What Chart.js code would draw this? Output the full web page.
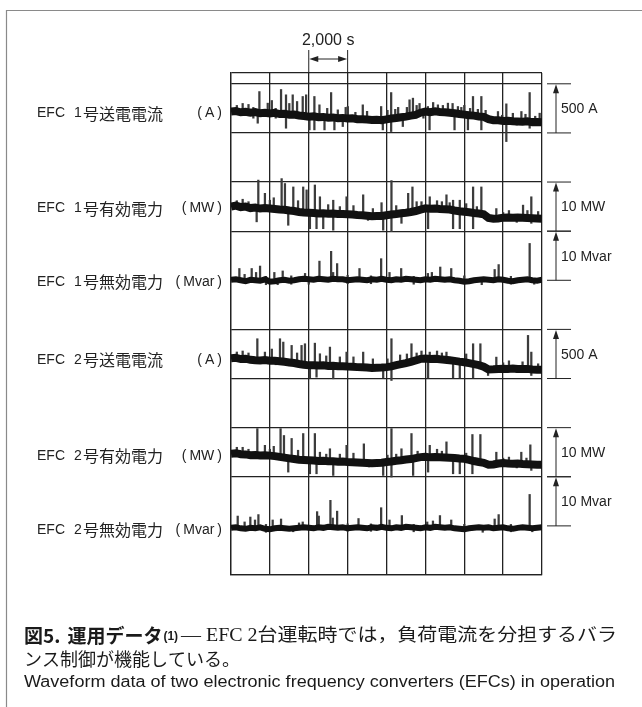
<!DOCTYPE html>
<html>
<head>
<meta charset="utf-8">
<script src="https://cdn.jsdelivr.net/npm/chart.js@4.4.1/dist/chart.umd.min.js"></script>
<style>
html,body{margin:0;padding:0;background:#fff}
#wrap{position:relative;width:642px;height:707px}
</style>
</head>
<body>
<div id="wrap"><canvas id="myChart" width="642" height="707"></canvas></div>
<script>
// time axis (s), 8 divisions of 2,000 s
let times = [
  0,250,500,750,1000,1250,1500,1750,2000,2250,2500,2750,3000,
  3250,3500,3750,4000,4250,4500,4750,5000,5250,5500,5750,6000,6250,
  6500,6750,7000,7250,7500,7750,8000,8250,8500,8750,9000,9250,9500,
  9750,10000,10250,10500,10750,11000,11250,11500,11750,12000,12250,12500,12750,
  13000,13250,13500,13750,14000,14250,14500,14750,15000,15250,15500,15750,16000
];

// EFC 1 transmission current (A)
let cur1 = [
  217,222,210,215,205,212,200,206,198,204,192,196,186,
  188,178,172,166,170,160,163,155,158,150,153,146,148,
  140,138,136,132,134,130,138,146,152,160,166,176,184,
  206,218,212,220,214,210,206,200,192,186,180,176,168,
  164,140,130,128,122,124,118,116,114,118,110,112,108
];
// EFC 1 active power (MW)
let mw1 = [
  5.0,5.2,4.9,5.0,4.7,4.8,4.6,4.7,4.6,4.5,4.4,4.35,4.2,
  4.1,3.9,3.8,3.75,3.7,3.6,3.65,3.55,3.6,3.5,3.5,3.45,3.4,
  3.3,3.25,3.15,3.05,3.1,3.1,3.25,3.4,3.5,3.65,3.75,3.9,4.1,
  4.4,4.65,4.55,4.6,4.5,4.45,4.4,4.2,4.05,3.95,3.85,3.7,3.6,
  3.45,2.7,2.55,2.6,2.75,2.8,2.75,2.8,2.75,2.7,2.65,2.6,2.55
];
// EFC 1 reactive power (Mvar)
let mvar1 = [
  0.1,0.2,0.0,-0.2,0.1,0.0,-0.1,0.2,-0.3,-0.2,0.0,0.1,-0.1,
  0.0,0.2,0.3,0.2,0.1,0.3,0.2,0.1,0.3,0.2,0.2,0.0,0.1,
  0.2,0.1,0.0,0.2,0.1,0.3,0.1,0.0,0.2,0.1,0.3,0.2,0.1,
  0.0,0.2,0.1,0.3,0.2,0.1,0.2,0.0,-0.1,-0.3,-0.2,0.0,0.1,
  0.2,0.1,0.0,0.2,0.1,-0.1,-0.2,0.0,0.1,0.2,0.0,-0.1,0.1
];
// EFC 2 transmission current (A)
let cur2 = [
  205,210,198,202,190,186,184,188,182,180,176,170,164,
  158,148,140,134,136,132,134,128,130,124,126,122,120,
  116,114,112,108,110,112,116,124,136,146,156,170,184,
  200,204,198,202,196,192,186,180,172,166,156,146,136,
  120,92,94,98,100,98,102,98,96,98,92,90,88
];
// EFC 2 active power (MW)
let mw2 = [
  4.7,4.8,4.6,4.55,4.4,4.45,4.35,4.4,4.3,4.2,4.05,3.9,3.75,
  3.6,3.45,3.4,3.35,3.3,3.2,3.25,3.15,3.15,3.05,3.1,3.0,2.95,
  2.9,2.85,2.8,2.75,2.8,2.85,3.0,3.1,3.25,3.35,3.5,3.6,3.8,
  4.0,4.05,3.95,4.0,3.95,3.9,3.85,3.8,3.7,3.65,3.45,3.2,3.0,
  2.85,2.45,2.5,2.7,2.8,2.7,2.65,2.7,2.6,2.55,2.5,2.45,2.45
];
// EFC 2 reactive power (Mvar)
let mvar2 = [
  -0.4,-0.3,-0.5,-0.6,-0.4,-0.5,-0.3,-0.6,-0.7,-0.5,-0.4,-0.5,-0.6,
  -0.5,-0.4,-0.3,-0.4,-0.5,-0.3,-0.4,-0.2,-0.3,-0.4,-0.3,-0.5,-0.4,
  -0.3,-0.4,-0.5,-0.3,-0.4,-0.2,-0.4,-0.5,-0.3,-0.4,-0.2,-0.3,-0.4,
  -0.5,-0.3,-0.4,-0.2,-0.3,-0.4,-0.3,-0.5,-0.6,-0.7,-0.5,-0.4,-0.3,
  -0.4,-0.3,-0.5,-0.4,-0.3,-0.5,-0.6,-0.4,-0.3,-0.4,-0.5,-0.4,-0.3
];

// spikes: [time, from, to]
let cur1Spikes = [
  [300,200,280],[600,210,300],[900,205,290],[1150,150,260],[1375,99,205],[1460,200,421],
  [1890,198,303],[2100,195,330],[2300,150,250],[2575,190,442],[2830,48,388],[3000,186,300],
  [3175,186,388],[3400,180,320],[3690,175,371],[3865,170,388],[4035,31,166],[4290,31,371],
  [4550,160,286],[4810,31,163],[4950,155,250],[5150,155,411],[5320,31,158],[5495,150,235],
  [5750,65,153],[5900,148,260],[6010,146,269],[6400,140,210],[6780,138,286],[7000,136,220],
  [7500,100,134],[7725,130,269],[7810,31,130],[8050,138,230],[8240,14,411],[8450,152,240],
  [8600,150,260],[8840,65,160],[9050,166,260],[9185,166,337],[9360,176,354],[9550,184,280],
  [9700,200,300],[9900,150,218],[10130,218,269],[10215,31,218],[10400,215,310],[10645,214,286],
  [10900,212,280],[11160,210,303],[11400,205,300],[11500,31,200],[11675,192,269],[11850,190,260],
  [12000,186,280],[12190,31,186],[12300,180,250],[12450,180,371],[12700,168,240],[12880,31,371],
  [13100,160,230],[13735,128,218],[13950,122,180],[14165,-88,296],[14500,118,200],[14700,80,116],
  [14940,116,218],[15150,114,190],[15365,48,411],[15650,110,170],[15880,112,201]
];
let mw1Spikes = [
  [300,5.0,6.2],[600,5.0,6.5],[900,4.9,6.0],[1320,1.9,4.8],[1405,4.7,10.4],[1745,4.7,7.7],
  [2000,4.6,6.3],[2200,4.5,6.8],[2605,4.4,10.7],[2775,4.35,9.7],[2945,1.2,4.2],[3205,4.1,9.0],
  [3450,3.9,6.2],[3715,3.8,9.0],[3890,3.8,8.4],[4060,0.5,3.75],[4315,3.7,9.4],[4400,0.5,3.6],
  [4575,3.6,7.0],[4745,0.5,3.65],[5000,3.55,5.4],[5260,0.2,6.3],[5600,3.5,5.0],[5945,3.45,7.0],
  [6300,3.4,5.2],[6800,3.25,7.4],[7050,2.2,3.15],[7300,3.05,4.6],[7745,3.1,5.8],[7830,0.2,3.1],
  [8255,-0.1,10.3],[8500,3.5,5.2],[8770,1.6,3.65],[9115,3.75,7.7],[9335,3.9,9.0],[9550,4.1,6.0],
  [9800,4.4,6.0],[10140,0.5,4.65],[10225,4.6,7.0],[10600,4.6,6.2],[10850,4.5,6.0],[11085,4.45,7.4],
  [11250,4.4,5.8],[11425,0.5,6.3],[11770,0.5,6.3],[12100,3.9,5.6],[12455,0.5,9.0],[12650,3.7,5.0],
  [12880,3.6,9.0],[13650,2.6,4.6],[14000,2.75,3.8],[14300,2.8,4.2],[14700,1.8,2.8],[15025,2.75,5.3],
  [15250,2.7,4.2],[15450,1.6,7.0],[15800,2.6,4.0]
];
let mvar1Spikes = [
  [430,0,2.4],[700,0,1.2],[1065,0,2.4],[1290,0,1.6],[1495,0,2.9],[1800,-0.9,0.8],[2230,0,1.6],
  [2400,-0.9,0],[2660,0,1.9],[3100,-0.8,0.9],[3810,0,1.4],[4000,-0.8,0],[4550,0,3.9],[5150,0,5.9],
  [5255,0,1.6],[5460,0,3.4],[6000,-0.7,1.0],[6610,0,2.4],[7200,-0.7,0.9],[7725,0,4.4],[8155,0,1.6],
  [8755,0,2.4],[9400,-0.8,0.8],[10130,0,1.4],[10335,0,1.6],[10765,0,2.7],[11330,0,2.4],[12000,-0.7,0.9],
  [12900,-0.9,0],[13565,0,2.2],[13770,0,3.2],[14400,-0.8,0.8],[15365,0,7.5],[15600,-0.8,0]
];
let cur2Spikes = [
  [300,200,270],[600,200,280],[900,195,260],[1355,186,405],[1745,184,269],[2100,182,300],
  [2300,140,182],[2520,176,405],[2690,170,371],[3120,164,337],[3400,148,260],[3630,140,337],
  [3805,136,354],[4060,7,134],[4315,132,360],[4400,14,132],[4575,134,252],[4900,128,230],
  [5090,128,320],[5260,-3,128],[5600,124,220],[5945,122,269],[6300,120,220],[6800,114,269],
  [7300,108,200],[7830,7,110],[8050,116,200],[8255,-20,405],[8700,146,240],[9050,156,250],
  [9285,170,354],[9550,184,260],[9800,200,280],[10140,7,204],[10225,198,269],[10600,202,280],
  [10850,196,260],[11085,192,269],[11425,7,186],[11770,7,172],[12100,166,250],[12455,7,354],
  [12830,136,354],[13225,31,92],[13650,98,218],[14000,100,160],[14300,98,180],[14700,60,98],
  [15000,96,170],[15280,92,439],[15450,31,269],[15800,90,150]
];
let mw2Spikes = [
  [300,4.7,6.0],[600,4.6,6.0],[900,4.5,5.6],[1355,4.4,9.8],[1745,4.4,6.4],[2000,4.3,5.6],
  [2200,4.2,6.2],[2550,4.05,9.8],[2725,3.9,8.4],[2945,0.95,3.75],[3120,3.7,7.8],[3450,3.45,5.4],
  [3715,3.4,8.8],[4060,0.61,3.3],[4315,3.3,8.8],[4400,0.61,3.2],[4575,3.2,5.0],[4900,3.2,4.6],
  [5090,3.15,5.7],[5260,0.27,3.15],[5600,3.05,4.6],[5945,3.0,6.4],[6300,2.95,4.8],[6835,2.85,6.7],
  [7100,2.0,2.8],[7830,0.27,2.85],[8050,3.0,4.4],[8255,-0.07,9.8],[8500,3.25,4.6],[8770,3.35,5.7],
  [9285,3.6,8.8],[9370,0.27,3.6],[9600,3.8,5.2],[10140,0.95,4.05],[10225,3.95,6.4],[10600,4.0,5.6],
  [10850,3.95,5.2],[11085,3.9,7.1],[11425,0.61,3.8],[11770,0.61,3.7],[12100,3.6,4.8],[12420,0.61,8.6],
  [12830,3.0,8.6],[13650,2.7,5.0],[14000,2.8,3.8],[14300,2.7,4.0],[14700,1.8,2.7],[14935,2.7,5.0],
  [15200,2.55,3.8],[15400,2.55,6.5],[15450,1.3,2.55]
];
let mvar2Spikes = [
  [345,-0.4,2.0],[700,-0.4,0.8],[995,-0.4,1.8],[1235,-0.4,1.2],[1410,-0.4,2.3],[1800,-1.3,0.3],
  [2145,-0.4,1.2],[2575,-0.4,1.4],[3200,-1.2,-0.4],[3500,-0.4,0.6],[3690,-0.4,0.8],[4430,-0.4,2.9],
  [4515,-0.4,2.0],[5115,-0.4,5.2],[5235,-0.4,1.6],[5460,-0.4,3.0],[6000,-1.1,0.4],[6560,-0.4,1.5],
  [7200,-1.1,0.4],[7725,-0.4,3.7],[8155,-0.4,1.2],[8790,-0.4,2.1],[9400,-1.2,0.3],[10095,-0.4,0.8],
  [10390,-0.4,1.0],[10750,-0.4,2.1],[11330,-0.4,1.2],[12000,-1.1,0.3],[12950,-1.3,-0.4],[13565,-0.4,1.4],
  [13770,-0.4,2.3],[14400,-1.2,0.3],[15365,-0.4,6.4],[15500,-1.2,-0.4]
];

// recorder sheet: 10 rows of grid, lines missing under the Mvar traces
let gridRows = [0, 2, 3, 4, 5, 7, 8, 9, 10, 10.22];
let gridTop = 10.22;

let traces = [
  {id: 'cur1',  num: '1', name: '号送電電流', unit: 'A',    step: 500, scaleText: '500 A',   zeroRow: 9, values: cur1,  spikes: cur1Spikes,  band: 8},
  {id: 'mw1',   num: '1', name: '号有効電力', unit: 'MW',   step: 10,  scaleText: '10 MW',   zeroRow: 7, values: mw1,   spikes: mw1Spikes,   band: 8},
  {id: 'mvar1', num: '1', name: '号無効電力', unit: 'Mvar', step: 10,  scaleText: '10 Mvar', zeroRow: 6, values: mvar1, spikes: mvar1Spikes, band: 6},
  {id: 'cur2',  num: '2', name: '号送電電流', unit: 'A',    step: 500, scaleText: '500 A',   zeroRow: 4, values: cur2,  spikes: cur2Spikes,  band: 8},
  {id: 'mw2',   num: '2', name: '号有効電力', unit: 'MW',   step: 10,  scaleText: '10 MW',   zeroRow: 2, values: mw2,   spikes: mw2Spikes,   band: 8},
  {id: 'mvar2', num: '2', name: '号無効電力', unit: 'Mvar', step: 10,  scaleText: '10 Mvar', zeroRow: 1, values: mvar2, spikes: mvar2Spikes, band: 6}
];

let LATIN = '"Liberation Sans", Arial, sans-serif';
let CJK = '"Noto Sans CJK JP", sans-serif';

let datasets = [];
let scales = {
  x: {
    type: 'linear', min: 0, max: 16000, offset: false,
    ticks: {stepSize: 2000, display: false},
    grid: {color: '#222', lineWidth: 1.3, drawTicks: false, offset: false},
    border: {color: '#222', width: 1.3}
  },
  yg: {
    type: 'linear', axis: 'y', position: 'left', min: 0, max: gridTop,
    afterBuildTicks: s => { s.ticks = gridRows.map(v => ({value: v})); },
    ticks: {display: false},
    grid: {color: '#222', lineWidth: 1.3, drawTicks: false},
    border: {color: '#222', width: 1.3}
  }
};

traces.forEach(tr => {
  scales[tr.id] = {
    type: 'linear', axis: 'y', display: false,
    min: -tr.zeroRow * tr.step,
    max: (gridTop - tr.zeroRow) * tr.step
  };
  datasets.push({
    type: 'line',
    data: tr.values.map((v, i) => ({x: times[i], y: v})),
    yAxisID: tr.id,
    borderColor: '#111',
    borderWidth: tr.band,
    pointRadius: 0,
    tension: 0,
    order: 0
  });
  datasets.push({
    type: 'bar',
    data: tr.spikes.map(s => ({x: s[0], y: [s[1], s[2]]})),
    yAxisID: tr.id,
    backgroundColor: '#3c3c3c',
    barThickness: 1.6,
    grouped: false,
    order: 1
  });
});

function arrowHead(ctx, x, y, dx, dy) {
  // tip at (x,y), pointing along (dx,dy)
  let len = 9, half = 3;
  ctx.beginPath();
  ctx.moveTo(x, y);
  ctx.lineTo(x - dx * len - dy * half, y - dy * len - dx * half);
  ctx.lineTo(x - dx * len + dy * half, y - dy * len + dx * half);
  ctx.closePath();
  ctx.fill();
}

// draw text squeezed or stretched to a given width
function fitText(ctx, text, x, y, width) {
  let w = ctx.measureText(text).width;
  ctx.save();
  ctx.translate(x, y);
  ctx.scale(width / w, 1);
  ctx.fillText(text, 0, 0);
  ctx.restore();
}

let overlay = {
  id: 'overlay',
  afterDraw(chart) {
    let ctx = chart.ctx;
    let xs = chart.scales.x;
    ctx.save();

    // page frame
    ctx.strokeStyle = '#8a8a8a';
    ctx.lineWidth = 1.2;
    ctx.beginPath();
    ctx.moveTo(6.5, 707); ctx.lineTo(6.5, 10.5); ctx.lineTo(642, 10.5);
    ctx.stroke();

    ctx.fillStyle = '#222';
    ctx.strokeStyle = '#222';
    ctx.lineWidth = 1;
    ctx.textBaseline = 'middle';

    // 2,000 s marker
    let xa = xs.getPixelForValue(4000), xb = xs.getPixelForValue(6000);
    let top = chart.chartArea.top;
    ctx.beginPath();
    ctx.moveTo(xa, top - 23); ctx.lineTo(xa, top);
    ctx.moveTo(xb, top - 23); ctx.lineTo(xb, top);
    ctx.moveTo(xa + 4, top - 14); ctx.lineTo(xb - 4, top - 14);
    ctx.stroke();
    arrowHead(ctx, xa + 0.5, top - 14, -1, 0);
    arrowHead(ctx, xb - 0.5, top - 14, 1, 0);
    ctx.font = '16px ' + LATIN;
    ctx.textAlign = 'center';
    ctx.fillText('2,000 s', (xa + xb) / 2, top - 32);

    traces.forEach(tr => {
      let ys = chart.scales[tr.id];
      let y0 = ys.getPixelForValue(0), y1 = ys.getPixelForValue(tr.step);

      // scale bracket on the right
      let bx = 556;
      ctx.beginPath();
      ctx.moveTo(547, y1); ctx.lineTo(571, y1);
      ctx.moveTo(547, y0); ctx.lineTo(571, y0);
      ctx.moveTo(bx, y0); ctx.lineTo(bx, y1 + 6);
      ctx.stroke();
      arrowHead(ctx, bx, y1 + 0.5, 0, -1);
      ctx.textAlign = 'left';
      ctx.font = '14px ' + LATIN;
      ctx.fillText(tr.scaleText, 561, (y0 + y1) / 2 + 1);

      // label on the left
      let ly = ys.getPixelForValue(tr.values[0]) + 2;
      ctx.font = '14px ' + LATIN;
      ctx.fillText('EFC', 37, ly);
      ctx.fillText(tr.num, 74, ly);
      ctx.font = '16px ' + CJK;
      ctx.fillText(tr.name, 83, ly);
      ctx.font = '14px ' + LATIN;
      ctx.textAlign = 'right';
      let r = 222;
      ctx.fillText(')', r, ly);
      r -= ctx.measureText(')').width + 3;
      ctx.fillText(tr.unit, r, ly);
      r -= ctx.measureText(tr.unit).width + 3;
      ctx.fillText('(', r, ly);
    });

    // caption
    ctx.textAlign = 'left';
    ctx.fillStyle = '#1a1a1a';
    let cx = 24, c1 = 636;
    ctx.font = 'bold 19px ' + CJK;
    ctx.fillText('図5.', cx, c1);
    cx += ctx.measureText('図5.').width + 7;
    ctx.fillText('運用データ', cx, c1);
    cx += ctx.measureText('運用データ').width + 1;
    ctx.font = 'bold 12px ' + LATIN;
    ctx.fillText('(1)', cx, c1 + 1);
    cx += ctx.measureText('(1)').width + 3;
    ctx.font = '18px "Liberation Serif", "Noto Sans CJK JP", serif';
    fitText(ctx, '— EFC 2台運転時では，負荷電流を分担するバラ', cx, c1, 617 - cx);
    ctx.font = '18px ' + CJK;
    ctx.fillText('ンス制御が機能している。', 24, c1 + 23);
    ctx.font = '16px ' + LATIN;
    fitText(ctx, 'Waveform data of two electronic frequency converters (EFCs) in operation', 24, c1 + 47, 591);

    ctx.restore();
  }
};

let ctx = document.getElementById('myChart').getContext('2d');
let myChart = new Chart(ctx, {
  type: 'line',
  data: {datasets: datasets},
  options: {
    responsive: false,
    animation: false,
    layout: {padding: {left: 231, right: 100, top: 73, bottom: 132}},
    plugins: {legend: {display: false}, tooltip: {enabled: false}},
    scales: scales
  },
  plugins: [overlay]
});
</script>
</body>
</html>
